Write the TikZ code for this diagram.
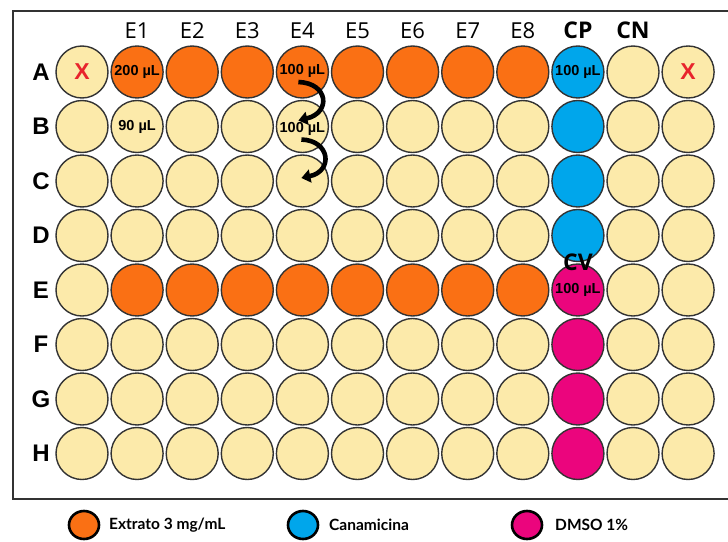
\documentclass[tikz,border=0pt]{standalone}
\usepackage{fontspec}
\setmainfont{Liberation Sans}
\newfontfamily\osans{Open Sans}
\newfontfamily\latof{Lato}
\usetikzlibrary{arrows.meta}
\usetikzlibrary{shapes.geometric}
\definecolor{wellY}{HTML}{FCEAAA}
\definecolor{wellO}{HTML}{FA7014}
\definecolor{wellB}{HTML}{00A6EB}
\definecolor{wellP}{HTML}{EB057D}
\definecolor{edgeC}{HTML}{333333}
\definecolor{xred}{HTML}{E8242C}
\tikzset{
  well/.style={circle, draw=edgeC, line width=1.4pt, minimum size=52pt, inner sep=0pt},
  vol/.style={font=\bfseries\fontsize{14.5}{15}\selectfont, inner sep=0pt},
  collab/.style={font=\osans\fontsize{22}{24}\selectfont, inner sep=0pt},
  ctrllab/.style={font=\osans\bfseries\fontsize{23}{25}\selectfont, inner sep=0pt},
  rowlab/.style={font=\bfseries\fontsize{24}{26}\selectfont, inner sep=0pt},
  xmark/.style={font=\bfseries\fontsize{23}{25}\selectfont, text=xred, inner sep=0pt},
  legdot/.style={ellipse, draw=black, line width=2.6pt, minimum width=30pt, minimum height=28pt, inner sep=0pt},
  legtxt/.style={anchor=west, font=\latof\bfseries\fontsize{15.5}{17}\selectfont, inner sep=0pt},
  arr/.style={line width=4.6pt, black, -{Triangle[width=13pt,length=9pt]}}
}
\begin{document}
\begin{tikzpicture}[x=1pt,y=-1pt]
\useasboundingbox (0,0) rectangle (728,541);
\clip (0,0) rectangle (728,541);
% plate frame
\draw[line width=2pt, draw=edgeC] (13,11) rectangle (760,499);
% wells
\foreach \rl [count=\j from 0] in {A,B,C,D,E,F,G,H} {
  \foreach \i in {1,...,12} {
    \def\wc{wellY}
    \ifnum\i>1 \ifnum\i<10 \ifnum\j=0 \def\wc{wellO}\fi\ifnum\j=4 \def\wc{wellO}\fi\fi\fi
    \ifnum\i=10 \ifnum\j<4 \def\wc{wellB}\else\def\wc{wellP}\fi\fi
    \node[well, fill=\wc] (\rl\i) at ({82+55.1*(\i-1)}, {72+54.5*\j}) {};
  }
  \path (\rl1.center) ++(-41,0) node[rowlab] (row\rl) {\rl};
}
% column labels
\foreach \i/\t in {2/E1,3/E2,4/E3,5/E4,6/E5,7/E6,8/E7,9/E8} {
  \path (A\i.center) ++(0,-41) node[collab] (col\i) {\t};
}
\path (A10.center) ++(0,-42) node[ctrllab] (colCP) {CP};
\path (A11.center) ++(0,-42) node[ctrllab] (colCN) {CN};
\path (E10.center) ++(0,-28) node[ctrllab] (labCV) {CV};
% marks and volumes
\node[xmark] (x1) at (A1.center) {X};
\node[xmark] (x12) at (A12.center) {X};
\node[vol] (v1) at (A2.center) {200 µL};
\node[vol] (v2) at (B2.center) {90 µL};
\path (A5.center) ++(0,-1) node[vol] (v3) {100 µL};
\path (B5.center) ++(0,2.5) node[vol] (v4) {100 µL};
\node[vol] (v5) at (A10.center) {100 µL};
\node[vol] (v6) at (E10.center) {100 µL};
% dilution arrows
\draw[arr] ([shift={(-4,10)}]A5.center) .. controls ([shift={(26,11)}]A5.center) and ([shift={(29,-14)}]B5.center) .. ([shift={(-4,-6)}]B5.center);
\draw[arr] ([shift={(-1,13)}]B5.center) .. controls ([shift={(28,14)}]B5.center) and ([shift={(31,-10)}]C5.center) .. ([shift={(-1,-3)}]C5.center);
% legend
\node[legdot, fill=wellO] (l1) at (84,525) {};
\node[legdot, fill=wellB] (l2) at (303,525) {};
\node[legdot, fill=wellP] (l3) at (527,525) {};
\node[legtxt] (t1) at (109,525) {Extrato 3 mg/mL};
\node[legtxt] (t2) at (329,525) {Canamicina};
\node[legtxt] (t3) at (555,525) {DMSO 1\%};
\end{tikzpicture}
\end{document}
